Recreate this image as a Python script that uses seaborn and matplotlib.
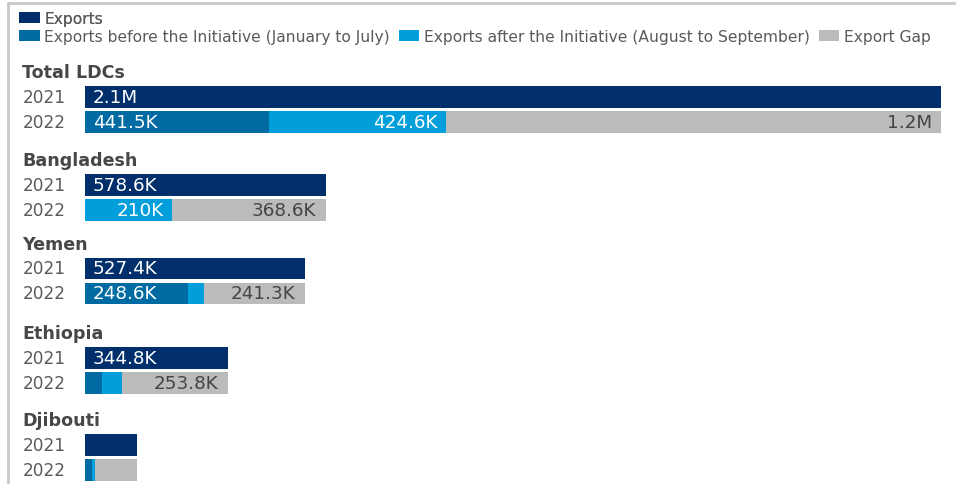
import matplotlib
matplotlib.use("Agg")
import matplotlib.pyplot as plt
from matplotlib.patches import Patch
from matplotlib.lines import Line2D
import seaborn as sns
import pandas as pd

# ---------------- data (values in thousands) ----------------
countries = ["Total LDCs", "Bangladesh", "Yemen", "Ethiopia", "Djibouti"]
years = ["2021", "2022"]
exports_2021 = [2054.0, 578.6, 527.4, 344.8, 127.0]
before_2022 = [441.5, 0.0, 248.6, 42.0, 17.5]
after_2022 = [424.6, 210.0, 37.5, 49.0, 6.5]
gap_2022 = [1187.9, 368.6, 241.3, 253.8, 103.0]
series_names = [
    "Exports",
    "Exports before the Initiative (January to July)",
    "Exports after the Initiative (August to September)",
    "Export Gap",
]

# ---------------- style ----------------
sns.set_theme(style="white")
plt.rcParams["font.family"] = ["DejaVu Sans"]

C_EXP = "#002F6C"
C_BEF = "#006AA2"
C_AFT = "#009FDB"
C_GAP = "#BBBBBB"
C_TXT = "#5A5A5A"
C_TITLE = "#474747"

W, H = 956, 485
fig = plt.figure(figsize=(W / 100, H / 100), dpi=100)
fig.patch.set_facecolor("white")

# frame lines of the container
fig.add_artist(Line2D([8 / W, 1], [1 - 4 / H, 1 - 4 / H], color="#C8C8C8", lw=2))
fig.add_artist(Line2D([8 / W, 8 / W], [0, 1 - 4 / H], color="#C8C8C8", lw=2))

def fmt(v):
    if v >= 1000:
        return f"{v / 1000:.1f}M"
    s = f"{v:.1f}"
    if s.endswith(".0"):
        s = s[:-2]
    return s + "K"

# pixel centre of the 2021 bar in each group (layout)
first_centres = [97.8, 186.0, 269.5, 359.0, 446.0]
row_px = 25.0
x0_px, xw_px = 84.5, 857.0
xmax = exports_2021[0]
min_label = 150.0

for i, name in enumerate(countries):
    c1 = first_centres[i]
    top = c1 - row_px / 2
    ax = fig.add_axes([x0_px / W, 1 - (top + 2 * row_px) / H, xw_px / W, 2 * row_px / H])

    b, a, g = before_2022[i], after_2022[i], gap_2022[i]
    d21 = pd.DataFrame({"year": ["2021"], "value": [exports_2021[i]]})
    sns.barplot(data=d21, x="value", y="year", order=years, orient="h",
                color=C_EXP, saturation=1, width=0.86, errorbar=None,
                linewidth=0, ax=ax)
    for val, col in [(b + a + g, C_GAP), (b + a, C_AFT), (b, C_BEF)]:
        d22 = pd.DataFrame({"year": ["2022"], "value": [val]})
        sns.barplot(data=d22, x="value", y="year", order=years, orient="h",
                    color=col, saturation=1, width=0.86, errorbar=None,
                    linewidth=0, ax=ax)

    ax.set_xlim(0, xmax)
    ax.set_ylim(1.5, -0.5)
    ax.set_xlabel("")
    ax.set_ylabel("")
    ax.set_xticks([])
    for s in ax.spines.values():
        s.set_visible(False)
    ax.tick_params(axis="y", length=0, pad=(x0_px - 22.7) * 0.72,
                   labelsize=12.2, labelcolor=C_TXT)
    for lbl in ax.get_yticklabels():
        lbl.set_horizontalalignment("left")
        lbl.set_verticalalignment("center")

    lab_kw = dict(textcoords="offset points", va="center", fontsize=13.2)
    # 2021 label
    if exports_2021[i] >= min_label:
        ax.annotate(fmt(exports_2021[i]), xy=(0, 0), xytext=(6, 0),
                    ha="left", color="white", **lab_kw)
    # 2022 labels
    if b >= min_label:
        ax.annotate(fmt(b), xy=(0, 1), xytext=(6, 0), ha="left",
                    color="white", **lab_kw)
    if a >= min_label:
        ax.annotate(fmt(a), xy=(b + a, 1), xytext=(-6, 0), ha="right",
                    color="white", **lab_kw)
    if g >= min_label:
        ax.annotate(fmt(g), xy=(b + a + g, 1), xytext=(-7, 0), ha="right",
                    color="#444444", **lab_kw)

    fig.text(22 / W, 1 - (c1 - 19.8) / H, name, ha="left", va="baseline",
             fontsize=12.6, fontweight="bold", color=C_TITLE)

# ---------------- legend ----------------
cols = [C_EXP, C_BEF, C_AFT, C_GAP]
handles = [Patch(facecolor=c, edgecolor="none", label=n) for c, n in zip(cols, series_names)]
leg_kw = dict(frameon=False, fontsize=11.2, handlelength=1.3, handleheight=0.7,
              handletextpad=0.3, columnspacing=0.6, borderpad=0, borderaxespad=0,
              labelcolor=C_TXT, loc="center left")
leg1 = fig.legend(handles=handles[:1], ncol=1,
                  bbox_to_anchor=(19.3 / W, 1 - 19.5 / H), **leg_kw)
fig.add_artist(leg1)
fig.legend(handles=handles[1:], ncol=3,
           bbox_to_anchor=(19.3 / W, 1 - 37.5 / H), **leg_kw)

fig.savefig("out.png", dpi=100, facecolor="white")
